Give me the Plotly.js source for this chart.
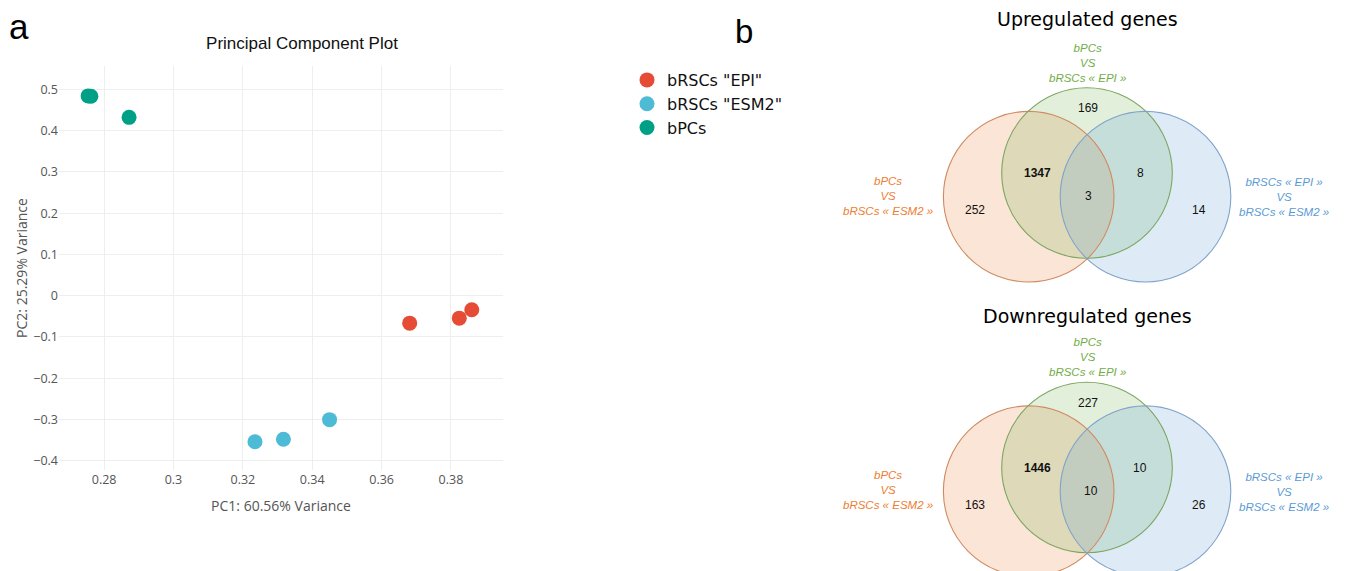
<!DOCTYPE html>
<html>
<head>
<meta charset="utf-8">
<script src="https://cdn.plot.ly/plotly-3.0.1.min.js"></script>
<style>html,body{margin:0;padding:0;background:#fff;}#chart{width:1350px;height:571px;}</style>
</head>
<body>
<div id="chart"></div>
<script>
// ---------- PCA data ----------
const seriesNames = ['bRSCs "EPI"', 'bRSCs "ESM2"', 'bPCs'];
const epiPC1 = [0.3681, 0.3824, 0.3860];
const epiPC2 = [-0.0665, -0.0544, -0.0340];
const esmPC1 = [0.3235, 0.3317, 0.3450];
const esmPC2 = [-0.3540, -0.3480, -0.3005];
const bpcPC1 = [0.2754, 0.2762, 0.2872];
const bpcPC2 = [0.4845, 0.4835, 0.4325];
const seriesColors = ['#E64B35', '#4DBBD5', '#00A087'];

// ---------- Venn data ----------
const vennTitles = ['Upregulated genes', 'Downregulated genes'];
const setLabels = ['bPCs<br>VS<br>bRSCs « ESM2 »', 'bPCs<br>VS<br>bRSCs « EPI »', 'bRSCs « EPI »<br>VS<br>bRSCs « ESM2 »'];
// regions: ESM2-only, EPI-only, EPIvsESM2-only, ESM2∩EPI, EPI∩(EPIvsESM2), all three
const upCounts = [252, 169, 14, 1347, 8, 3];
const downCounts = [163, 227, 26, 1446, 10, 10];

// ---------- layout geometry (pixels, page coords) ----------
const W = 1350, H = 571;
const setColors = ['#ED7D31', '#70AD47', '#5B9BD5'];
const setLines = ['#D08A60', '#7BA660', '#7FA3CA'];
const circleCenters = [[1028.7, 196.7], [1087, 173], [1145.5, 196.7]];
const R = 85.3;
const countPos = [[975, 210], [1088, 108], [1199, 210], [1037, 173], [1140, 173], [1088, 196]];
const labelPos = [[888, 195.5], [1087, 62.5], [1284, 197]];
const titlePos = [1087, 19];
const blockOffsets = [0, 294.5];

const traces = [
  {x: epiPC1, y: epiPC2, c: 0},
  {x: esmPC1, y: esmPC2, c: 1},
  {x: bpcPC1, y: bpcPC2, c: 2}
].map(s => ({
  type: 'scatter', mode: 'markers', x: s.x, y: s.y, name: seriesNames[s.c],
  xaxis: 'x', yaxis: 'y',
  marker: {color: seriesColors[s.c], size: 15, line: {width: 0}},
  hoverinfo: 'x+y+name'
}));

const shapes = [];
const annotations = [];

annotations.push({xref: 'paper', yref: 'paper', x: 7/W, y: 1 - 26/H, xanchor: 'left', yanchor: 'middle',
  text: 'a', showarrow: false, font: {family: 'Liberation Sans, Arial', size: 35, color: '#000'}});
annotations.push({xref: 'paper', yref: 'paper', x: 733/W, y: 1 - 31/H, xanchor: 'left', yanchor: 'middle',
  text: 'b', showarrow: false, font: {family: 'Liberation Sans, Arial', size: 33, color: '#000'}});

blockOffsets.forEach((dy, bi) => {
  const counts = bi === 0 ? upCounts : downCounts;
  circleCenters.forEach((c, i) => {
    shapes.push({type: 'circle', xref: 'x2', yref: 'y2', layer: 'above',
      x0: c[0] - R, x1: c[0] + R, y0: c[1] + dy - R, y1: c[1] + dy + R,
      fillcolor: setColors[i], opacity: 0.2, line: {width: 0}});
  });
  circleCenters.forEach((c, i) => {
    shapes.push({type: 'circle', xref: 'x2', yref: 'y2', layer: 'above',
      x0: c[0] - R, x1: c[0] + R, y0: c[1] + dy - R, y1: c[1] + dy + R,
      fillcolor: 'rgba(0,0,0,0)', line: {color: setLines[i], width: 1.1}});
  });
  annotations.push({xref: 'x2', yref: 'y2', x: titlePos[0], y: titlePos[1] + dy + (bi ? 2 : 0),
    text: vennTitles[bi], showarrow: false, xanchor: 'center', yanchor: 'middle',
    font: {family: 'DejaVu Sans, Verdana', size: 19, color: '#000'}});
  labelPos.forEach((p, i) => {
    annotations.push({xref: 'x2', yref: 'y2', x: p[0], y: p[1] + dy, text: '<i>' + setLabels[i] + '</i>',
      showarrow: false, xanchor: 'center', yanchor: 'middle', align: 'center',
      font: {family: 'Liberation Sans, Arial', size: 11.5, color: setColors[i]}});
  });
  countPos.forEach((p, i) => {
    annotations.push({xref: 'x2', yref: 'y2', x: p[0] + (bi && i === 5 ? 3 : 0), y: p[1] + dy,
      text: i === 3 ? '<b>' + counts[i] + '</b>' : String(counts[i]),
      showarrow: false, xanchor: 'center', yanchor: 'middle',
      font: {family: 'Liberation Sans, Arial', size: 12, color: '#111'}});
  });
});

const layout = {
  width: W, height: H,
  margin: {l: 0, r: 0, t: 0, b: 0, pad: 0},
  paper_bgcolor: '#fff', plot_bgcolor: '#fff',
  font: {family: 'Open Sans, DejaVu Sans', color: '#555'},
  title: {text: 'Principal Component Plot', x: 302/W, y: 1 - 43/H, xref: 'paper', yref: 'paper',
    xanchor: 'center', yanchor: 'middle', font: {family: 'Liberation Sans, Arial', size: 17, color: '#111'}},
  showlegend: true,
  legend: {x: 627/W, y: 1 - 63/H, xanchor: 'left', yanchor: 'top', bgcolor: 'rgba(0,0,0,0)',
    font: {family: 'DejaVu Sans, Verdana', size: 16, color: '#111'}, tracegroupgap: 0, itemwidth: 30},
  xaxis: {domain: [59/W, 503/W], range: [0.267, 0.395], tick0: 0.28, dtick: 0.02,
    showgrid: true, gridcolor: '#eeeeee', zeroline: false, showline: false, automargin: false,
    ticks: '', tickfont: {size: 12.5, color: '#555'}, anchor: 'y',
    title: {text: 'PC1: 60.56% Variance', font: {size: 14, color: '#555'}, standoff: 14}},
  yaxis: {domain: [1 - 470/H, 1 - 66/H], range: [-0.4226, 0.557], tick0: 0, dtick: 0.1,
    showgrid: true, gridcolor: '#eeeeee', zeroline: false, showline: false, automargin: false,
    ticks: '', tickfont: {size: 12.5, color: '#555'}, anchor: 'x',
    title: {text: 'PC2: 25.29% Variance', font: {size: 14, color: '#555'}, standoff: 2}},
  xaxis2: {domain: [0.55, 1], range: [0.55 * W, W], visible: false, fixedrange: true, anchor: 'y2'},
  yaxis2: {domain: [0, 1], range: [H, 0], visible: false, fixedrange: true, anchor: 'x2'},
  shapes: shapes,
  annotations: annotations
};

Plotly.newPlot('chart', traces, layout, {displayModeBar: false, responsive: false});
</script>
</body>
</html>
